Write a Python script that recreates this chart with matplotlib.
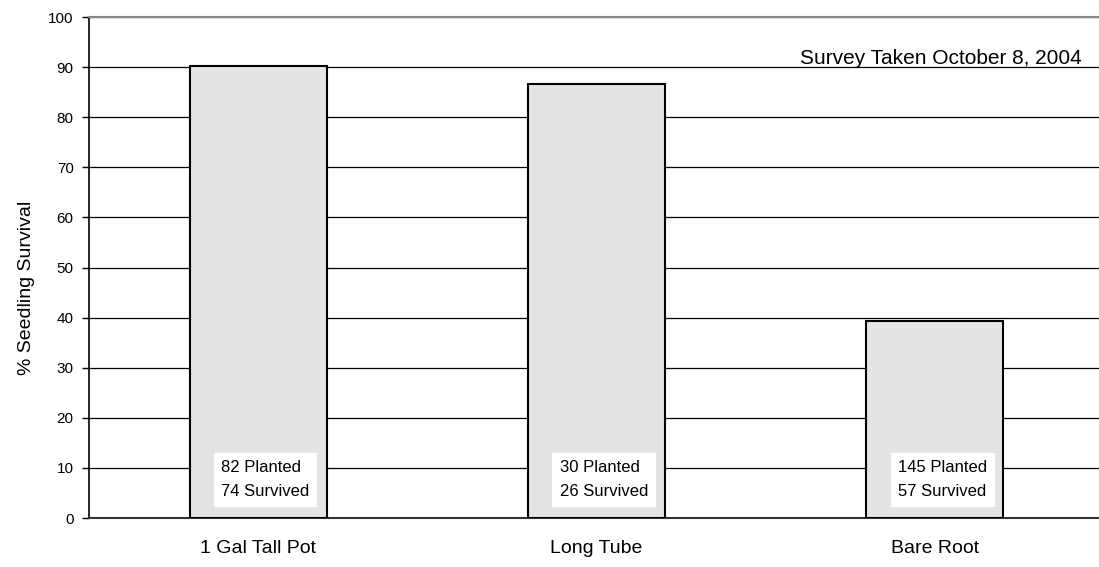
import matplotlib
matplotlib.use("Agg")
import matplotlib.pyplot as plt

categories = ["1 Gal Tall Pot", "Long Tube", "Bare Root"]
planted = [82, 30, 145]
survived = [74, 26, 57]
survival_pct = [90.24, 86.67, 39.31]
yticks = [0, 10, 20, 30, 40, 50, 60, 70, 80, 90, 100]

plt.rcParams['font.family'] = ['Liberation Sans', 'DejaVu Sans']

fig = plt.figure(figsize=(10.99, 5.67), dpi=100)
ax = fig.add_axes([0.081, 0.0864, 0.919, 0.8836])

x = list(range(len(categories)))
ax.bar(x, survival_pct, width=0.405, color="#e4e4e4", edgecolor="black",
       linewidth=1.5, zorder=3)

ax.set_xlim(-0.5, 2.485)
ax.set_ylim(0, 100)
ax.set_yticks(yticks)
ax.set_yticklabels([str(t) for t in yticks], fontsize=11)
ax.yaxis.grid(True, color="black", linewidth=0.9, zorder=0)
ax.set_axisbelow(True)
ax.set_xticks(x)
ax.set_xticklabels(categories, fontsize=14)
ax.tick_params(axis='x', length=0, pad=16)
ax.tick_params(axis='y', length=5, width=1, direction='out', pad=6)

ax.spines['top'].set_color('#888888')
ax.spines['top'].set_linewidth(1.5)
ax.spines['right'].set_visible(False)
ax.spines['left'].set_linewidth(1.2)
ax.spines['bottom'].set_linewidth(1.5)
ax.spines['bottom'].set_color('#333333')

ax.set_ylabel("% Seedling Survival", fontsize=14)
ax.yaxis.set_label_coords(-0.053, 0.46)

for i, (p, s) in enumerate(zip(planted, survived)):
    ax.text(i - 0.109, 7.6, f"{p} Planted\n{s} Survived", fontsize=12,
            ha='left', va='center', linespacing=1.75, zorder=5,
            bbox=dict(boxstyle='square,pad=0.45', facecolor='white', edgecolor='none'))

ax.text(0.983, 90.6, "Survey Taken October 8, 2004",
        transform=ax.get_yaxis_transform(),
        ha='right', va='baseline', fontsize=15, zorder=6)

fig.savefig("out.png", dpi=100)
